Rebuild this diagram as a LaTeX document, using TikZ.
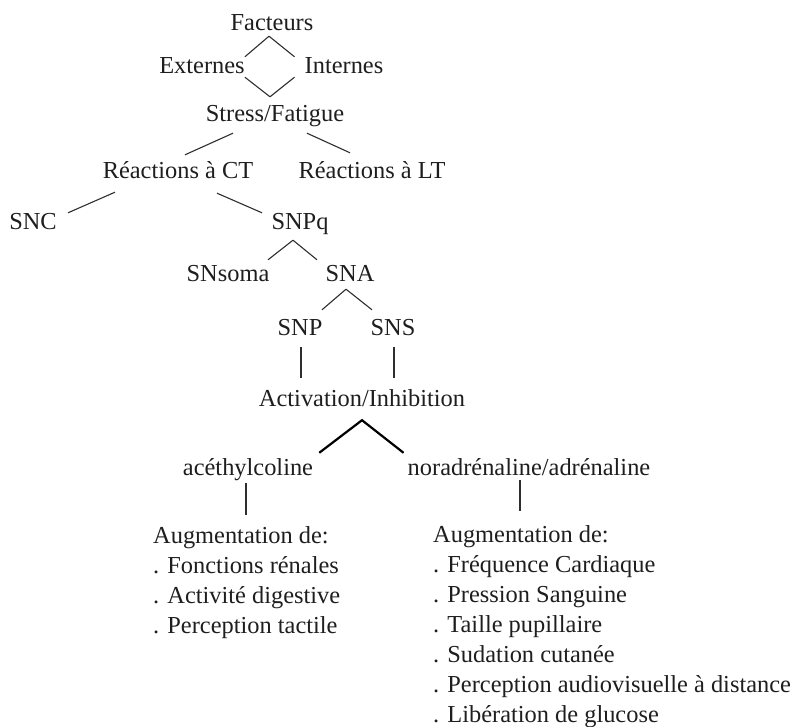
\documentclass[tikz,border=0pt]{standalone}
\usepackage{fontspec}
\setmainfont{Liberation Serif}
\usetikzlibrary{calc}
\definecolor{ink}{HTML}{1E1E1E}
\definecolor{wire}{HTML}{2E2E2E}
\begin{document}
\begin{tikzpicture}[x=1pt,y=-1pt,
  lbl/.style={anchor=base,inner sep=0pt,text height=17pt,text depth=5pt,text=ink,font=\fontsize{24.4pt}{30pt}\selectfont},
  blk/.style={anchor=north west,inner sep=0pt,align=left,text=ink,font=\fontsize{24.4pt}{30pt}\selectfont},
  link/.style={draw=wire,line width=1.1pt},
  boldlink/.style={draw=black,line width=2.2pt}]
\useasboundingbox (0,0) rectangle (790,727);
\node[lbl] (fact) at (272,31) {Facteurs};
\node[lbl] (ext) at (202,74) {Externes};
\node[lbl] (int) at (344,74) {Internes};
\node[lbl] (stress) at (275,122) {Stress/Fatigue};
\node[lbl] (ct) at (178,179) {Réactions à CT};
\node[lbl] (lt) at (372,179) {Réactions à LT};
\node[lbl] (snc) at (33,230) {SNC};
\node[lbl] (snpq) at (300,230) {SNPq};
\node[lbl] (soma) at (228,282) {SNsoma};
\node[lbl] (sna) at (350,282) {SNA};
\node[lbl] (snp) at (300,336) {SNP};
\node[lbl] (sns) at (393,336) {SNS};
\node[lbl] (act) at (362,406) {Activation/Inhibition};
\node[lbl] (ace) at (248,475) {acéthylcoline};
\node[lbl] (nor) at (529,475) {noradrénaline/adrénaline};
\node[blk] (augL) at (153,526) {Augmentation de:\\. Fonctions rénales\\. Activité digestive\\. Perception tactile};
\node[blk] (augR) at (433,525) {Augmentation de:\\. Fréquence Cardiaque\\. Pression Sanguine\\. Taille pupillaire\\. Sudation cutanée\\. Perception audiovisuelle à distance\\. Libération de glucose};
% connectors
\draw[link] ($(fact.south)+(-3,0)$) -- (ext.north east);
\draw[link] ($(fact.south)+(-3,0)$) -- ($(int.north west)+(-10,0)$);
\draw[link] ($(ext.south east)+(0,-2)$) -- ($(stress.north)+(-5,-8)$);
\draw[link] ($(int.south west)+(-10,-2)$) -- ($(stress.north)+(-5,-8)$);
\draw[link] ($(stress.south)+(-42,6)$) -- ($(ct.north)+(7,-7)$);
\draw[link] ($(stress.south)+(32,6)$) -- ($(lt.north)+(-22,-9)$);
\draw[link] ($(ct.south)+(-63,8)$) -- ($(snc.north)+(35,0)$);
\draw[link] ($(ct.south)+(39,9)$) -- ($(snpq.north)+(-38,0)$);
\draw[link] ($(snpq.south)+(-7,5)$) -- ($(soma.north)+(40,-5)$);
\draw[link] ($(snpq.south)+(-7,5)$) -- ($(sna.north)+(-33,-5)$);
\draw[link] ($(sna.south)+(-4,2)$) -- ($(snp.north)+(22,-9)$);
\draw[link] ($(sna.south)+(-4,2)$) -- ($(sns.north)+(-21,-9)$);
\draw[link] ($(snp.south)+(1,6)$) -- ($(snp.south |- act.north)+(1,-11)$);
\draw[link] ($(sns.south)+(1,6)$) -- ($(sns.south |- act.north)+(1,-11)$);
\draw[boldlink] ($(ace.north east)+(6,-5)$) -- ($(act.south)+(0,9)$) -- ($(nor.north west)+(-4,-5)$);
\draw[link] ($(ace.south)+(-2,3)$) -- ($(ace.south |- augL.north)+(-2,-11)$);
\draw[link] ($(nor.south)+(-9,0)$) -- ($(nor.south |- augR.north)+(-9,-14)$);
\end{tikzpicture}
\end{document}
